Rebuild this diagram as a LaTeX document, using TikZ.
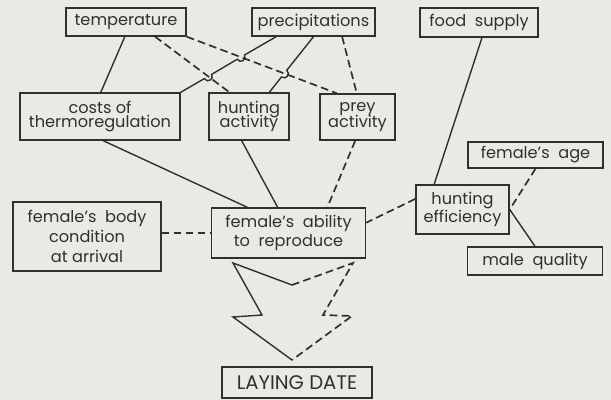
\documentclass[tikz,border=0pt]{standalone}
\usepackage{fontspec}
\setmainfont{Poppins}
\usetikzlibrary{calc}
\definecolor{paper}{HTML}{EAE9E4}
\definecolor{ink}{HTML}{303030}
\begin{document}
\begin{tikzpicture}[x=0.025cm,y=-0.025cm,
    box/.style={draw=ink,line width=1pt,align=center,inner sep=1pt,text=ink,
                font=\fontsize{11.5}{14}\selectfont},
    link/.style={draw=ink,line width=1pt},
    dep/.style={link,line width=1.2pt,dash pattern=on 5.5pt off 3pt},
    hop/.style={bend left=90,looseness=1.7}]
    \fill[paper] (0,0) rectangle (611,400);
    \useasboundingbox (0,0) rectangle (611,400);

    \node[box,minimum width=3cm,minimum height=0.7cm] (temp) at (126,22) {temperature};
    \node[box,minimum width=3.075cm,minimum height=0.7cm] (precip) at (313.5,22) {precipitations};
    \node[box,minimum width=2.95cm,minimum height=0.725cm] (food) at (479,22.5) {food\ \ supply};
    \node[box,minimum width=4cm,minimum height=1.175cm] (costs) at (100,116.5) {costs of\\[-3.5pt]thermoregulation};
    \node[box,minimum width=2cm,minimum height=1.175cm] (hunt) at (249,116.5) {hunting\\[-3.5pt]activity};
    \node[box,minimum width=1.875cm,minimum height=1.15cm] (prey) at (357.5,117) {prey\\[-2.5pt]activity};
    \node[box,minimum width=3.375cm,minimum height=0.65cm] (age) at (535.5,155) {female's\ \ age};
    \node[box,minimum width=2.325cm,minimum height=1.225cm] (eff) at (462.5,209.5) {hunting\\[-1pt]efficiency};
    \node[box,minimum width=3.375cm,minimum height=0.7cm] (male) at (535,261) {male\ \ quality};
    \node[box,minimum width=3.7cm,minimum height=1.725cm] (body) at (87,236.5) {female's\ \ body\\condition\\at arrival};
    \node[box,minimum width=3.85cm,minimum height=1.25cm] (ability) at (288.5,233) {female's\ \ ability\\to\ \ reproduce};
    \node[box,minimum width=3.75cm,minimum height=0.775cm,font=\fontsize{14}{16}\selectfont] (laying) at (297,382.5) {LAYING\ DATE};

    % crossings where a solid line hops over a dashed one
    \coordinate (hopA) at (240.9,57.1);
    \coordinate (hopB) at (208.0,76.5);
    \coordinate (hopC) at (284.1,73.6);
    \coordinate (p1) at ($(precip.south west)!.2!(precip.south east)$);
    \coordinate (p2) at ($(precip.south west)!.5!(precip.south east)$);
    \coordinate (h2) at ($(hunt.north west)!.75!(hunt.north east)$);

    \draw[link] ($(temp.south west)!.49!(temp.south east)$) -- ($(costs.north west)!.505!(costs.north east)$);
    \draw[dep] ($(temp.south west)!.74!(temp.south east)$) -- ($(hunt.north west)!.26!(hunt.north east)$);
    \draw[dep] (temp.south east) -- ($(prey.north west)!.23!(prey.north east)$);
    \draw[link] (p1) -- ($(hopA)!3pt!(p1)$) to[hop] ($(hopA)!3pt!(costs.north east)$)
        -- ($(hopB)!3pt!(p1)$) to[hop] ($(hopB)!3pt!(costs.north east)$) -- (costs.north east);
    \draw[link] (p2) -- ($(hopC)!3pt!(p2)$) to[hop] ($(hopC)!3pt!(h2)$) -- (h2);
    \draw[dep] ($(precip.south west)!.73!(precip.south east)$) -- ($(prey.north west)!.49!(prey.north east)$);
    \draw[link] ($(food.south west)!.525!(food.south east)$) -- ($(eff.north west)!.2!(eff.north east)$);

    \draw[link] ($(costs.south west)!.52!(costs.south east)$) -- ($(ability.north west)!.235!(ability.north east)$);
    \draw[link] ($(hunt.south west)!.41!(hunt.south east)$) -- ($(ability.north west)!.43!(ability.north east)$);
    \draw[dep] ($(prey.south west)!.47!(prey.south east)$) -- ($(ability.north west)!.75!(ability.north east)$);
    \draw[dep] (age.south) -- (eff.east);
    \draw[link] (eff.east) -- (male.north);
    \draw[dep] ($(eff.north west)!.29!(eff.south west)$) -- ($(ability.north east)!.3!(ability.south east)$);
    \draw[dep] (body.east |- ability.west) -- (ability.west);

    % big arrow towards the laying date
    \draw[link] (292,285) -- (233,263) -- (262,315) -- (233,317) -- (292,360);
    \draw[dep] (292,285) -- (353,263) -- (323,315) -- (352,316) -- (292,360);
\end{tikzpicture}
\end{document}
